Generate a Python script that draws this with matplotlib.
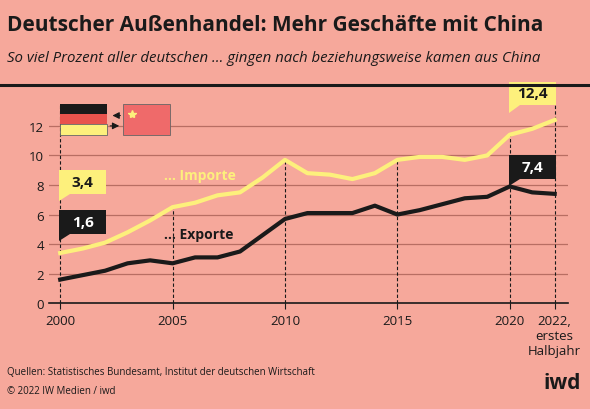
import matplotlib.pyplot as plt
from matplotlib.patches import Rectangle, Polygon

years = list(range(2000, 2023))
importe = [3.4, 3.7, 4.1, 4.8, 5.6, 6.5, 6.8, 7.3, 7.5, 8.5, 9.7, 8.8, 8.7, 8.4, 8.8,
           9.7, 9.9, 9.9, 9.7, 10.0, 11.4, 11.8, 12.4]
exporte = [1.6, 1.9, 2.2, 2.7, 2.9, 2.7, 3.1, 3.1, 3.5, 4.6, 5.7, 6.1, 6.1, 6.1, 6.6,
           6.0, 6.3, 6.7, 7.1, 7.2, 7.9, 7.5, 7.4]
xticks = [2000, 2005, 2010, 2015, 2020, 2022]
xlabels = ['2000', '2005', '2010', '2015', '2020', '2022,\nerstes\nHalbjahr']

bg = '#f6a89b'
yel = '#fdf07c'
dark = '#1a1a1a'
grid = '#b86e63'

plt.rcParams['font.family'] = ['Open Sans', 'DejaVu Sans']
fig = plt.figure(figsize=(5.9, 4.1), dpi=100, facecolor=bg)
ax = fig.add_axes([0.083, 0.258, 0.88, 0.465], facecolor=bg)

fig.text(0.012, 0.925, 'Deutscher Außenhandel: Mehr Geschäfte mit China', fontsize=15,
         fontweight='bold', color=dark)
fig.text(0.012, 0.85, 'So viel Prozent aller deutschen … gingen nach beziehungsweise kamen aus China',
         fontsize=10.8, style='italic', color=dark)
fig.add_artist(plt.Line2D([0, 1], [0.79, 0.79], color=dark, lw=2.2))

ax.set_ylim(0, 12.9)
ax.set_xlim(1999.5, 2022.6)
ax.set_yticks(range(0, 13, 2))
ax.set_xticks(xticks)
ax.set_xticklabels(xlabels, fontsize=9.5, va='top', linespacing=1.2)
ax.tick_params(axis='y', labelsize=9.5, length=0, colors=dark)
ax.tick_params(axis='x', length=4, color=dark, colors=dark)
for y in range(2, 14, 2):
    ax.axhline(y, color=grid, lw=0.9, zorder=0)
for s in ['top', 'right', 'left']:
    ax.spines[s].set_visible(False)
ax.spines['bottom'].set_color(dark)
ax.spines['bottom'].set_linewidth(1.2)

for x in xticks:
    i = years.index(x)
    top = importe[i] if x not in (2000, 2022) else 13.5
    ax.plot([x, x], [0, top], ls=(0, (3, 2)), color=dark, lw=0.8, zorder=1, clip_on=False)

ax.plot(years, importe, color=yel, lw=3, zorder=3)
ax.plot(years, exporte, color=dark, lw=3, zorder=3)
ax.text(2004.6, 8.4, '… Importe', color=yel, fontsize=10, fontweight='bold')
ax.text(2004.6, 4.4, '… Exporte', color=dark, fontsize=10, fontweight='bold')

def box(x, y, txt, fc, tc):
    # callout box with a small tail pointing down-left
    w, h = 2.1, 1.6
    ax.add_patch(Polygon([(x - w / 2, y - h / 2 - 0.5), (x - w / 2, y + h / 2), (x + w / 2, y + h / 2),
                          (x + w / 2, y - h / 2), (x - w / 2 + 0.5, y - h / 2)],
                         fc=fc, ec='none', zorder=5, clip_on=False))
    ax.text(x, y, txt, ha='center', va='center', fontsize=11, fontweight='bold', color=tc,
            zorder=6, clip_on=False)

box(2001.0, 8.2, '3,4', yel, dark)
box(2001.0, 5.5, '1,6', dark, 'white')
box(2021.0, 14.2, '12,4', yel, dark)
box(2021.0, 9.2, '7,4', dark, 'white')

# flags
ax.add_patch(Rectangle((2000, 11.4), 2.1, 0.7, fc=yel, ec='#666', lw=0.6, clip_on=False))
ax.add_patch(Rectangle((2000, 12.1), 2.1, 0.7, fc='#e8534d', ec='none', clip_on=False))
ax.add_patch(Rectangle((2000, 12.8), 2.1, 0.7, fc=dark, ec='none', clip_on=False))
ax.add_patch(Rectangle((2002.8, 11.4), 2.1, 2.1, fc='#ef6a6a', ec='#666', lw=0.6, clip_on=False))
ax.plot([2003.2], [12.8], marker='*', color=yel, ms=6, clip_on=False)
ax.annotate('', (2002.2, 12.7), xytext=(2002.8, 12.7),
            arrowprops=dict(arrowstyle='-|>', color=dark, lw=0.8), annotation_clip=False)
ax.annotate('', (2002.75, 12.0), xytext=(2002.1, 12.0),
            arrowprops=dict(arrowstyle='-|>', color=dark, lw=0.8), annotation_clip=False)

fig.text(0.012, 0.085, 'Quellen: Statistisches Bundesamt, Institut der deutschen Wirtschaft',
         fontsize=7, color=dark)
fig.text(0.012, 0.04, '© 2022 IW Medien / iwd', fontsize=7, color=dark)
fig.text(0.985, 0.05, 'iwd', fontsize=15, fontweight='bold', color=dark, ha='right')

fig.savefig('out.png', facecolor=bg)
